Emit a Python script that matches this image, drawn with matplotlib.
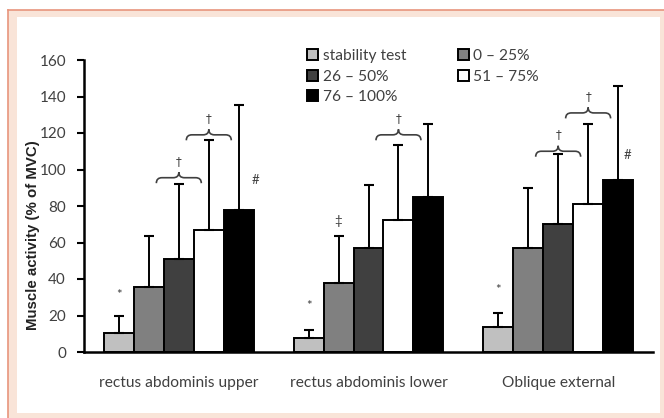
import matplotlib
matplotlib.use("Agg")
import matplotlib.pyplot as plt
import numpy as np
from matplotlib.path import Path
from matplotlib.patches import PathPatch, Rectangle

groups = ["rectus abdominis upper", "rectus abdominis lower", "Oblique external"]
series = ["stability test", "0 \u2013 25%", "26 \u2013 50%", "51 \u2013 75%", "76 \u2013 100%"]
means = [
    [10.5, 7.7, 13.6],   # stability test
    [35.8, 38.0, 57.0],  # 0-25%
    [51.0, 57.2, 70.3],  # 26-50%
    [67.0, 72.5, 81.0],  # 51-75%
    [78.0, 85.0, 94.5],  # 76-100%
]
errors = [
    [9.0, 4.5, 7.5],
    [28.0, 25.7, 33.0],
    [41.0, 34.5, 38.0],
    [49.0, 41.0, 44.0],
    [57.5, 40.0, 51.5],
]
colors = ["#c0c0c0", "#808080", "#404040", "#ffffff", "#000000"]
yticks = [0, 20, 40, 60, 80, 100, 120, 140, 160]

# annotations: (group, series index, y value, text, x offset in bar widths)
marks = [
    (0, 0, 31, "*", 0.0), (1, 0, 25, "*", 0.0), (2, 0, 34, "*", 0.0),
    (1, 1, 72, "\u2021", 0.0),
    (0, 4, 94, "#", 0.55), (2, 4, 108, "#", 0.3),
]
# braces: (group, series index centred on, y of brace ends)
braces = [(0, 2, 92.5), (0, 3, 116), (1, 3, 116), (2, 2, 107), (2, 3, 128)]

W, H = 664, 418
fig = plt.figure(figsize=(W / 100, H / 100), dpi=100)
fig.patch.set_facecolor("white")

# frame
fig.patches.append(Rectangle((8 / W, 0), 1, 1 - 10 / H, transform=fig.transFigure,
                             facecolor="#f9e4d8", edgecolor="none", zorder=-10))
fig.patches.append(Rectangle((17 / W, 5 / H), (660 - 17) / W, (418 - 5 - 17) / H,
                             transform=fig.transFigure, facecolor="white",
                             edgecolor="none", zorder=-9))
fig.lines.append(plt.Line2D([8 / W, 1], [1 - 10 / H, 1 - 10 / H], transform=fig.transFigure,
                            color="#e8957d", lw=1.2, zorder=-8))
fig.lines.append(plt.Line2D([8 / W, 8 / W], [0, 1 - 10 / H], transform=fig.transFigure,
                            color="#e8957d", lw=1.2, zorder=-8))

ax = fig.add_axes([84 / W, (H - 352) / H, (653 - 84) / W, 292 / H])
ax.set_facecolor("none")
ax.set_zorder(5)

n = len(series)
bw = 0.158
x = np.arange(len(groups))
for i in range(n):
    xs = x + (i - (n - 1) / 2) * bw
    ax.bar(xs, means[i], width=bw, color=colors[i], edgecolor="black", linewidth=1.4,
           label=series[i], zorder=2)
    ax.errorbar(xs, means[i], yerr=[np.zeros(len(groups)), errors[i]], fmt="none",
                ecolor="black", elinewidth=1.4, capsize=3.3, capthick=1.5, zorder=3)

def barx(g, s):
    return x[g] + (s - (n - 1) / 2) * bw

for g, s, yv, t, off in marks:
    ax.text(barx(g, s) + off * bw, yv, t, ha="center", va="center", fontsize=9.5,
            color="#404040", family="Lato")

def brace(xc, y0, half, h):
    d = half * 0.25
    verts = [
        (xc - half, y0), (xc - half, y0 + h / 2), (xc - half + d, y0 + h / 2),
        (xc - d, y0 + h / 2), (xc, y0 + h / 2), (xc, y0 + h),
        (xc, y0 + h / 2), (xc + d, y0 + h / 2),
        (xc + half - d, y0 + h / 2), (xc + half, y0 + h / 2), (xc + half, y0),
    ]
    codes = [Path.MOVETO, Path.CURVE3, Path.CURVE3, Path.LINETO, Path.CURVE3, Path.CURVE3,
             Path.CURVE3, Path.CURVE3, Path.LINETO, Path.CURVE3, Path.CURVE3]
    ax.add_patch(PathPatch(Path(verts, codes), facecolor="none", edgecolor="#404040",
                           lw=1.2, zorder=4))

for g, s, yv in braces:
    brace(barx(g, s), yv, 0.75 * bw, 6)
    ax.text(barx(g, s), yv + 12, "\u2020", ha="center", va="center", fontsize=8.5,
            color="#404040", family="DejaVu Sans")

ax.set_xlim(-0.5, 2.5)
ax.set_ylim(0, 160)
ax.set_yticks(yticks)
ax.set_xticks(x)
ax.set_xticklabels(groups)
for sp in ["top", "right"]:
    ax.spines[sp].set_visible(False)
for sp in ["left", "bottom"]:
    ax.spines[sp].set_linewidth(1.8)
ax.tick_params(axis="y", length=5, width=1.5, labelsize=11, labelcolor="#404040", pad=8)
ax.tick_params(axis="x", length=0, labelsize=11.2, labelcolor="#404040", pad=17)
for lab in ax.get_xticklabels() + ax.get_yticklabels():
    lab.set_family("Lato")
ax.set_ylabel("Muscle activity (% of MVC)", fontsize=10.8, fontweight="bold",
              family="Liberation Sans", color="#222222")
ax.yaxis.set_label_coords((40 - 84) / (653 - 84), 0.40)

h, l = ax.get_legend_handles_labels()
order = [0, 2, 4, 1, 3]
leg = ax.legend([h[k] for k in order], [l[k] for k in order], ncol=2, frameon=False,
                loc="upper left", bbox_to_anchor=((301 - 84) / (653 - 84), 1.058),
                prop={"family": "Lato", "size": 11.2}, handlelength=0.7, handleheight=0.7,
                handletextpad=0.3, columnspacing=3.3, labelspacing=0.42, borderaxespad=0)
for t in leg.get_texts():
    t.set_color("#404040")

fig.savefig("out.png", dpi=100, facecolor=fig.get_facecolor())
